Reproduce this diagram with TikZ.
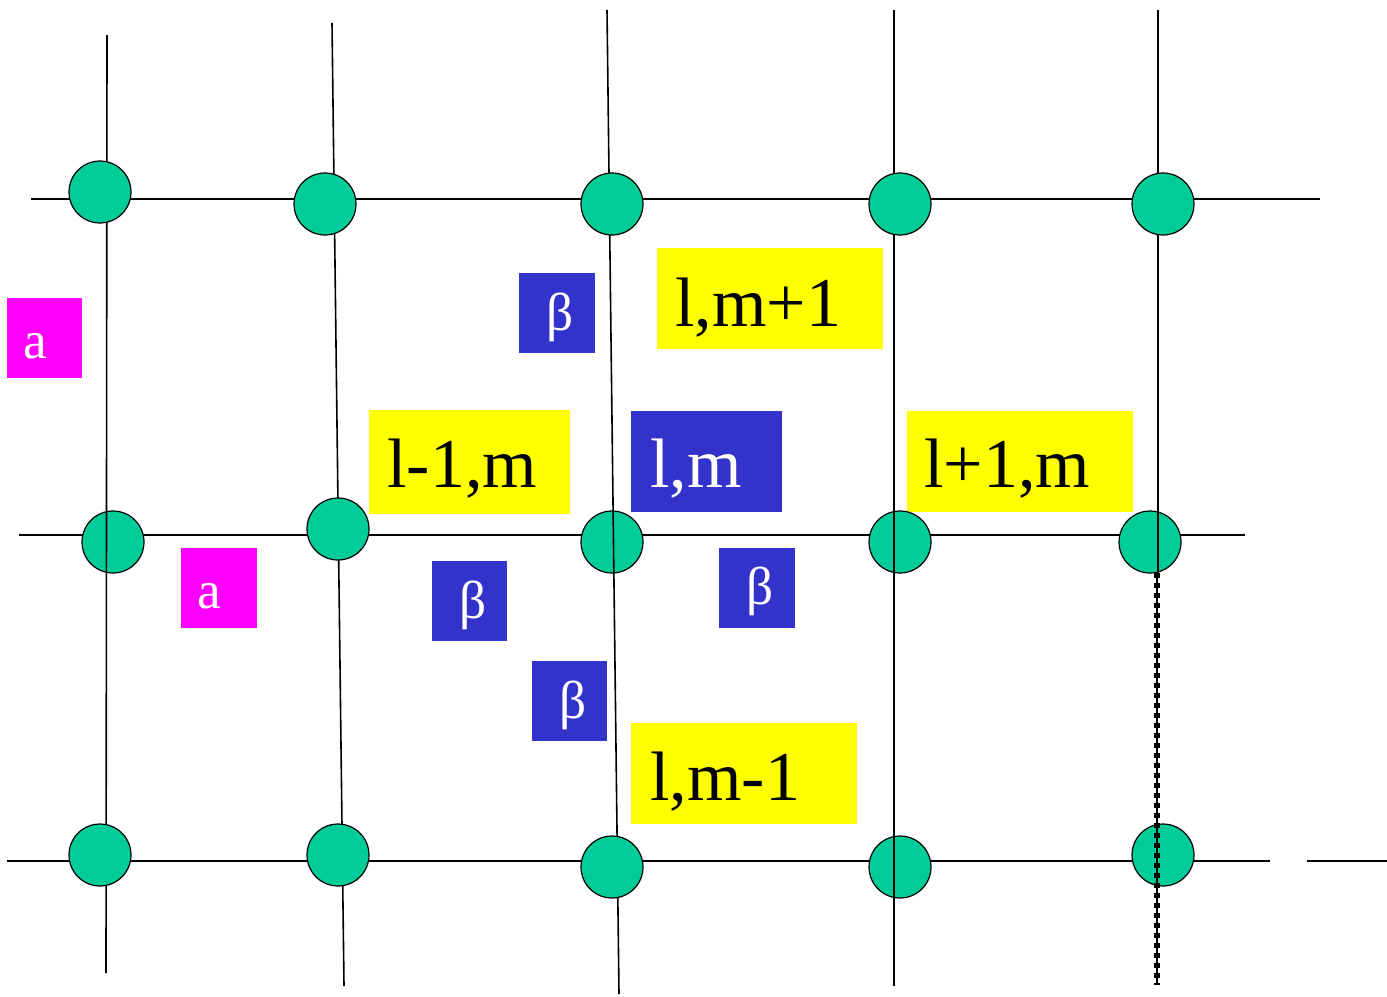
\documentclass[tikz,border=0pt]{standalone}
\usepackage{fontspec}
\setmainfont{Liberation Serif}
\definecolor{nodegreen}{RGB}{0,204,153}
\definecolor{boxblue}{RGB}{51,51,204}
\definecolor{boxyellow}{RGB}{255,255,0}
\definecolor{boxmag}{RGB}{255,0,255}
\tikzset{
  gridline/.style={black, line width=1.2pt},
  site/.style={circle, draw=black, line width=0.9pt, fill=nodegreen, minimum size=46.5pt, inner sep=0pt},
  bigtxt/.style={anchor=base west, inner sep=0pt, font=\fontsize{52.5}{56}\selectfont},
  smalltxt/.style={anchor=base, inner sep=0pt, text=white, font=\fontsize{40}{44}\selectfont},
}
\begin{document}
\begin{tikzpicture}[x=0.75pt, y=-0.75pt]
\useasboundingbox (0,0) rectangle (1387,996);
% boxes
\fill[boxmag] (7,298) rectangle (82,378);
\fill[boxmag] (181,548) rectangle (257,628);
\fill[boxblue] (519,273) rectangle (595,353);
\fill[boxblue] (432,561) rectangle (507,641);
\fill[boxblue] (719,548) rectangle (795,628);
\fill[boxblue] (532,661) rectangle (607,741);
\fill[boxblue] (631,411) rectangle (782,512);
\fill[boxyellow] (657,248) rectangle (883,349);
\fill[boxyellow] (369,410) rectangle (570,514);
\fill[boxyellow] (907,411) rectangle (1133,512);
\fill[boxyellow] (631,723) rectangle (857,824);
% grid lines
\coordinate (h1a) at (31,199); \coordinate (h1b) at (1320,199);
\coordinate (h2a) at (19,535); \coordinate (h2b) at (1245,535);
\coordinate (h3a) at (7,861); \coordinate (h3b) at (1270,861);
\coordinate (h4a) at (1307,861); \coordinate (h4b) at (1387,861);
\coordinate (v1a) at (107,35); \coordinate (v1b) at (106,973);
\coordinate (v2a) at (332,23); \coordinate (v2b) at (344,986);
\coordinate (v3a) at (607,10); \coordinate (v3b) at (619,994);
\coordinate (v4a) at (894,10); \coordinate (v4b) at (894,986);
\coordinate (v5a) at (1158,10); \coordinate (v5b) at (1158,573);
\coordinate (d5a) at (1157,573); \coordinate (d5b) at (1157,985);
\draw[gridline] (h1a) -- (h1b);
\draw[gridline] (h2a) -- (h2b);
\draw[gridline] (h3a) -- (h3b);
\draw[gridline] (h4a) -- (h4b);
\draw[gridline] (v1a) -- (v1b);
\draw[gridline] (v2a) -- (v2b);
\draw[gridline] (v3a) -- (v3b);
\draw[gridline] (v4a) -- (v4b);
\draw[gridline] (v5a) -- (v5b);
\draw[gridline] (d5a) -- (d5b);
% sites
\node[site] (c11) at (100,192) {};
\node[site] (c12) at (325,204) {};
\node[site] (c13) at (612,204) {};
\node[site] (c14) at (900,204) {};
\node[site] (c15) at (1163,204) {};
\node[site] (c21) at (113,542) {};
\node[site] (c22) at (338,529) {};
\node[site] (c23) at (612,542) {};
\node[site] (c24) at (900,542) {};
\node[site] (c25) at (1150,542) {};
\node[site] (c31) at (100,855) {};
\node[site] (c32) at (338,855) {};
\node[site] (c33) at (612,867) {};
\node[site] (c34) at (900,867) {};
\node[site] (c35) at (1163,855) {};
% lines visible through some sites
\begin{scope}\clip (c21.center) circle[radius=23pt]; \draw[gridline] (v1a) -- (v1b); \end{scope}
\begin{scope}\clip (c23.center) circle[radius=23pt]; \draw[gridline] (v3a) -- (v3b); \end{scope}
\begin{scope}\clip (c24.center) circle[radius=23pt]; \draw[gridline] (v4a) -- (v4b); \end{scope}
\begin{scope}\clip (c25.center) circle[radius=23pt]; \draw[gridline] (v5a) -- (v5b); \end{scope}
\begin{scope}\clip (c34.center) circle[radius=23pt]; \draw[gridline] (v4a) -- (v4b); \end{scope}
\begin{scope}\clip (c35.center) circle[radius=23pt]; \draw[gridline] (d5a) -- (d5b); \end{scope}
% dotted line
\draw[black, line width=3.8pt, dash pattern=on 3.6pt off 3.9pt] (d5a) -- (d5b);
% texts
\node[bigtxt] (tlm1) at (675,326) {l,m+1};
\node[bigtxt, text=white] (tlm) at (650,487) {l,m};
\node[bigtxt] (tl1m) at (387,487) {l-1,m};
\node[bigtxt] (tlp1m) at (924,487) {l+1,m};
\node[bigtxt] (tlm_1) at (650,800) {l,m-1};
\node[smalltxt] (ta1) at (35,358) {a};
\node[smalltxt] (ta2) at (209,608) {a};
\node[smalltxt] (tb0) at (560,330) {β};
\node[smalltxt] (tb1) at (473,618) {β};
\node[smalltxt] (tb2) at (760,604) {β};
\node[smalltxt] (tb3) at (573,718) {β};
\end{tikzpicture}
\end{document}
